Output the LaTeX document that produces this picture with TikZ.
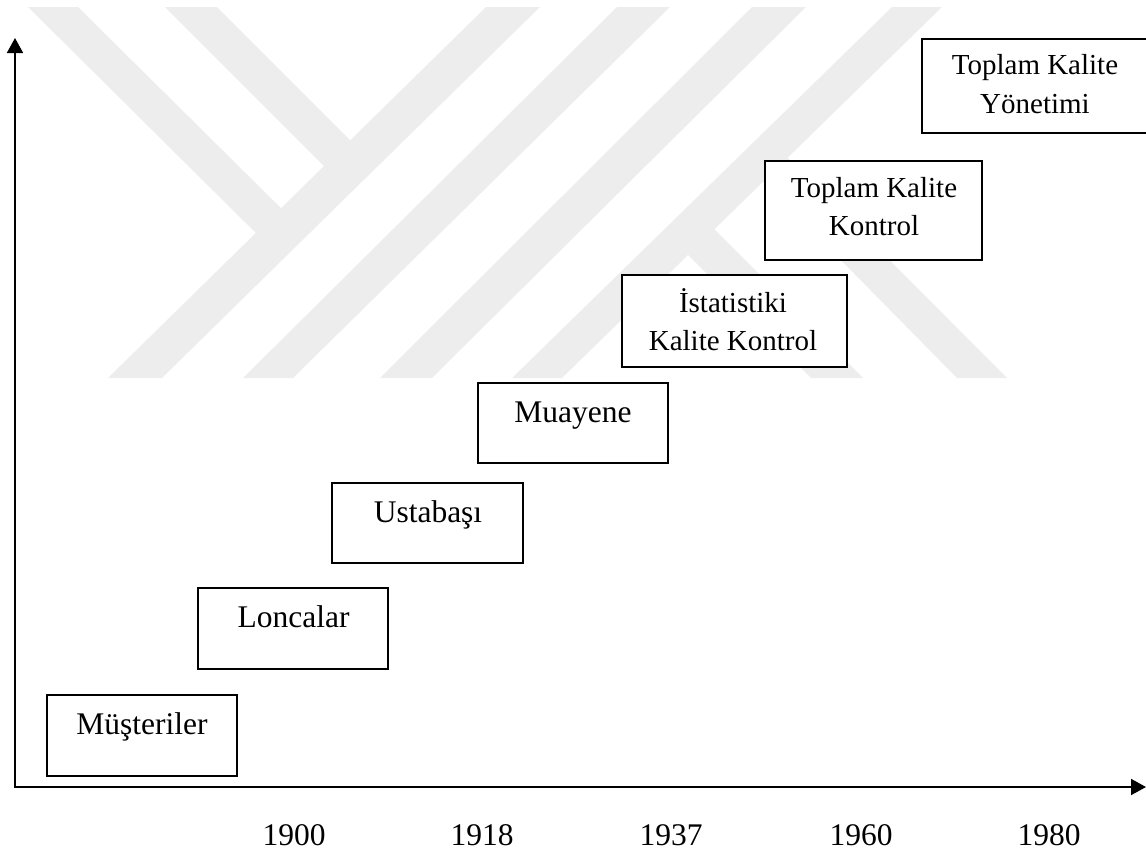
\documentclass[tikz,border=0pt]{standalone}
\usepackage{fontspec}
\setmainfont{Liberation Serif}
\usetikzlibrary{arrows.meta}
\definecolor{wm}{RGB}{237,237,237}
\begin{document}
\begin{tikzpicture}[x=1pt,y=-1pt,
  box/.style={draw=black, line width=1.5pt, fill=white, inner sep=0pt},
  big/.style={font=\fontsize{31.5}{38}\selectfont, anchor=base, inner sep=0pt},
  mid/.style={font=\fontsize{29}{36}\selectfont, anchor=base, inner sep=0pt},
  axis/.style={line width=1.8pt, -{Triangle[length=15pt,width=16pt]}},
  wmark/.style={fill=wm, draw=none}]
\useasboundingbox (0,0) rectangle (1146,852);
% watermark
\fill[wmark] (486,7)--(540,7)--(162,378)--(108,378)--cycle;
\fill[wmark] (617,7)--(670,7)--(293,378)--(243,378)--cycle;
\fill[wmark] (752,7)--(806,7)--(432,378)--(380,378)--cycle;
\fill[wmark] (892,7)--(942,7)--(562,378)--(512,378)--cycle;
\fill[wmark] (28,7)--(78,7)--(300,227)--(275,252)--cycle;
\fill[wmark] (165,7)--(217,7)--(367,157)--(340,182)--cycle;
\fill[wmark] (700,215)--(863,378)--(811,378)--(675,242)--cycle;
\fill[wmark] (775,145)--(1007,378)--(957,378)--(751,169)--cycle;
% axes
\coordinate (O) at (15,787);
\coordinate (ytop) at (15,38);
\coordinate (xend) at (1146,787);
\draw[axis] ([xshift=-0.9pt]O) -- (xend);
\draw[axis] ([yshift=0.9pt]O) -- (ytop);
% boxes
\node[box, minimum width=190pt, minimum height=81pt] (b1) at (142,735.5) {};
\node[box, minimum width=190pt, minimum height=81pt] (b2) at (293,628.5) {};
\node[box, minimum width=191pt, minimum height=80pt] (b3) at (427.5,523) {};
\node[box, minimum width=190pt, minimum height=80pt] (b4) at (573,423) {};
\node[box, minimum width=225pt, minimum height=92pt] (b5) at (734.5,321) {};
\node[box, minimum width=217pt, minimum height=99pt] (b6) at (873.5,210.5) {};
\node[box, minimum width=227pt, minimum height=94pt] (b7) at (1035.5,86) {};
% texts
\node[big] (t1) at (142,734) {Müşteriler};
\node[big] (t2) at (293.5,627) {Loncalar};
\node[big] (t3) at (428,522) {Ustabaşı};
\node[big] (t4) at (573,422) {Muayene};
\node[mid] (t5a) at (733,312) {İstatistiki};
\node[mid] (t5b) at (733,350) {Kalite Kontrol};
\node[mid] (t6a) at (874,197) {Toplam Kalite};
\node[mid] (t6b) at (874,235) {Kontrol};
\node[mid] (t7a) at (1035,74) {Toplam Kalite};
\node[mid] (t7b) at (1035,113) {Yönetimi};
% years
\node[big] (y1) at (294,845) {1900};
\node[big] (y2) at (482,845) {1918};
\node[big] (y3) at (671,845) {1937};
\node[big] (y4) at (861,845) {1960};
\node[big] (y5) at (1049,845) {1980};
\end{tikzpicture}
\end{document}
